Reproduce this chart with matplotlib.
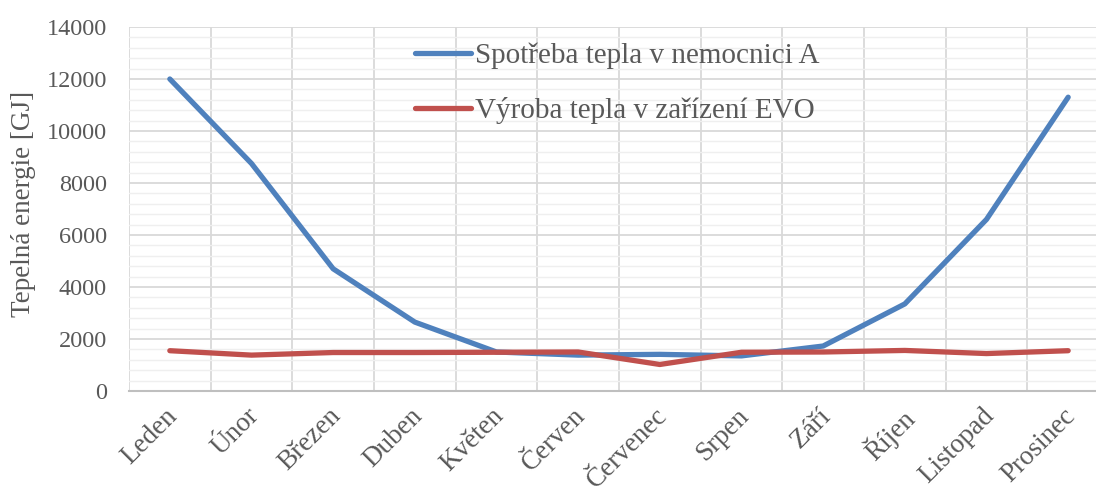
import numpy as np
import matplotlib
matplotlib.use("Agg")
import matplotlib.pyplot as plt
import matplotlib.transforms as mtransforms
from matplotlib.ticker import MultipleLocator

months = ["Leden", "Únor", "Březen", "Duben", "Květen", "Červen", "Červenec",
          "Srpen", "Září", "Říjen", "Listopad", "Prosinec"]
spotreba = [12000, 8750, 4700, 2650, 1500, 1380, 1410, 1350, 1730, 3350, 6600, 11300]
vyroba = [1550, 1380, 1480, 1480, 1490, 1500, 1020, 1490, 1500, 1560, 1440, 1550]

plt.rcParams["font.family"] = ["Liberation Serif", "DejaVu Serif"]
txt = "#595959"

fig = plt.figure(figsize=(10.96, 4.86), dpi=100)
ax = fig.add_axes([129/1096, 95/486, 980/1096, 364/486])
x = np.arange(len(months))

ax.plot(x, spotreba, color="#4F81BD", lw=3.8, solid_capstyle="round", solid_joinstyle="round",
        label="Spotřeba tepla v nemocnici A", zorder=3)
ax.plot(x, vyroba, color="#C0504D", lw=3.8, solid_capstyle="round", solid_joinstyle="round",
        label="Výroba tepla v zařízení EVO", zorder=3)

ax.set_xlim(-0.5, 11.5)
ax.set_ylim(0, 14000)
ax.yaxis.set_major_locator(MultipleLocator(2000))
ax.yaxis.set_minor_locator(MultipleLocator(400))
ax.set_xticks(x)
ax.set_xticks(np.arange(-0.5, 12, 1), minor=True)
ax.set_xticklabels(months, rotation=45, ha="right", rotation_mode="anchor",
                   fontsize=19.5, color=txt)
ax.tick_params(axis="y", labelsize=17.5, labelcolor=txt, length=0, pad=16)
ax.tick_params(axis="x", length=0, pad=9)
ax.tick_params(which="minor", length=0)
# posun popisků mesicu trochu doleva
shift = mtransforms.ScaledTranslation(-5/100, 0, fig.dpi_scale_trans)
for lab in ax.get_xticklabels():
    lab.set_transform(lab.get_transform() + shift)

ax.grid(True, which="major", axis="y", color="#D9D9D9", lw=1.3)
ax.grid(True, which="minor", axis="y", color="#EFEFEF", lw=1.0)
ax.grid(True, which="minor", axis="x", color="#D9D9D9", lw=1.3)
ax.set_axisbelow(True)
for s in ["top", "right", "left"]:
    ax.spines[s].set_visible(False)
ax.spines["bottom"].set_color("#BFBFBF")
ax.spines["bottom"].set_linewidth(1.5)

ax.set_ylabel("Tepelná energie [GJ]", fontsize=19.5, color=txt)
ax.yaxis.set_label_coords(-0.095, 0.515)

leg = ax.legend(loc="upper left", bbox_to_anchor=(0.292, 0.958), frameon=False,
                fontsize=21, handlelength=1.9, handletextpad=0.14, labelspacing=0.97,
                borderpad=0, borderaxespad=0, labelcolor=txt)

fig.savefig("out.png", dpi=100)
